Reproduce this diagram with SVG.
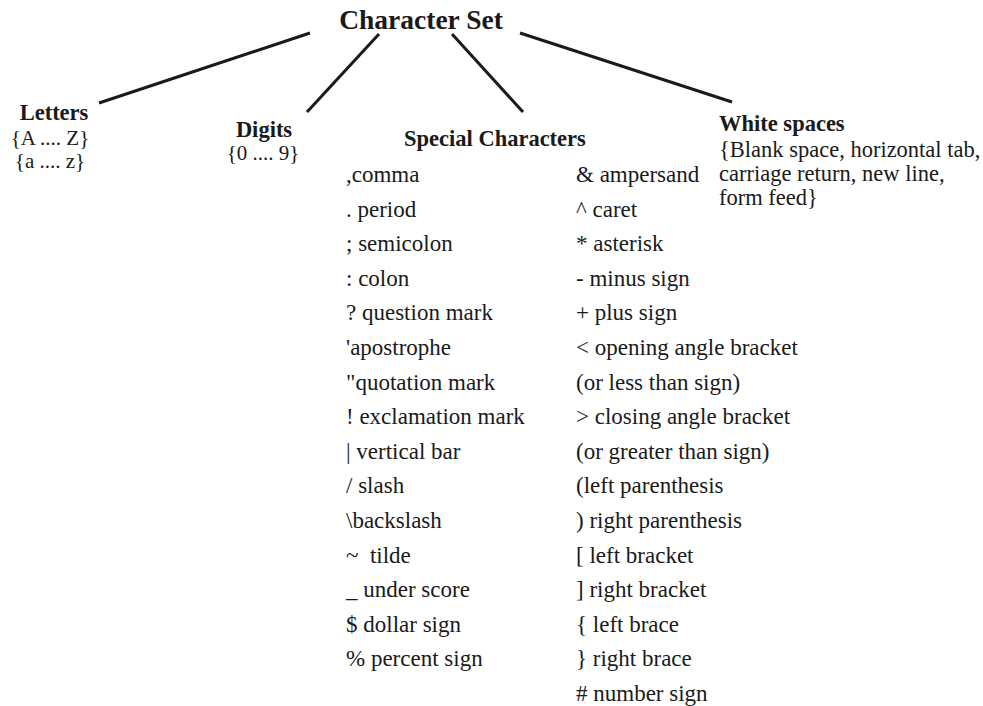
<svg xmlns="http://www.w3.org/2000/svg" width="983" height="706" viewBox="0 0 983 706">
<style>
text{font-family:"Liberation Serif","Times New Roman",serif;fill:#1a1a1a}
.t{font-size:27.5px;font-weight:bold}
.h{font-size:22.5px;font-weight:bold}
.s{font-size:21px}
.w{font-size:22.5px}
.l{font-size:23px}
.c line{stroke:#1a1a1a;stroke-width:3;stroke-linecap:butt}
</style>
<rect width="983" height="706" fill="#fff"/>
<g class="c" id="connectors">
<line x1="310" y1="33" x2="99" y2="103"/>
<line x1="379" y1="34" x2="307" y2="112"/>
<line x1="452" y1="34" x2="523" y2="112"/>
<line x1="520" y1="33" x2="732" y2="102"/>
</g>
<g id="root"><text class="t" x="421" y="29" text-anchor="middle">Character Set</text></g>
<g id="letters">
<text class="h" x="54" y="120" text-anchor="middle">Letters</text>
<text class="s" x="50" y="145" text-anchor="middle">{A .... Z}</text>
<text class="s" x="50" y="168" text-anchor="middle">{a .... z}</text>
</g>
<g id="digits">
<text class="h" x="264" y="137" text-anchor="middle">Digits</text>
<text class="s" x="263" y="160" text-anchor="middle">{0 .... 9}</text>
</g>
<g id="whitespaces">
<text class="h" x="719" y="131">White spaces</text>
<text class="w" x="719" y="157">{Blank space, horizontal tab,</text>
<text class="w" x="719" y="181">carriage return, new line,</text>
<text class="w" x="719" y="205">form feed}</text>
</g>
<g id="special">
<text class="h" x="404" y="146">Special Characters</text>
<g class="l">
<text x="346" y="182">,comma</text>
<text x="346" y="216.6">. period</text>
<text x="346" y="251.2">; semicolon</text>
<text x="346" y="285.8">: colon</text>
<text x="346" y="320.4">? question mark</text>
<text x="346" y="355">'apostrophe</text>
<text x="346" y="389.6">"quotation mark</text>
<text x="346" y="424.2">! exclamation mark</text>
<text x="346" y="458.8">| vertical bar</text>
<text x="346" y="493.4">/ slash</text>
<text x="346" y="528">\backslash</text>
<text x="346" y="562.6" xml:space="preserve">~  tilde</text>
<text x="346" y="597.2">_ under score</text>
<text x="346" y="631.8">$ dollar sign</text>
<text x="346" y="666.4">% percent sign</text>
<text x="576" y="182">&amp; ampersand</text>
<text x="576" y="216.6">^ caret</text>
<text x="576" y="251.2">* asterisk</text>
<text x="576" y="285.8">- minus sign</text>
<text x="576" y="320.4">+ plus sign</text>
<text x="576" y="355">&lt; opening angle bracket</text>
<text x="576" y="389.6">(or less than sign)</text>
<text x="576" y="424.2">&gt; closing angle bracket</text>
<text x="576" y="458.8">(or greater than sign)</text>
<text x="576" y="493.4">(left parenthesis</text>
<text x="576" y="528">) right parenthesis</text>
<text x="576" y="562.6">[ left bracket</text>
<text x="576" y="597.2">] right bracket</text>
<text x="576" y="631.8">{ left brace</text>
<text x="576" y="666.4">} right brace</text>
<text x="576" y="701"># number sign</text>
</g>
</g>
</svg>
